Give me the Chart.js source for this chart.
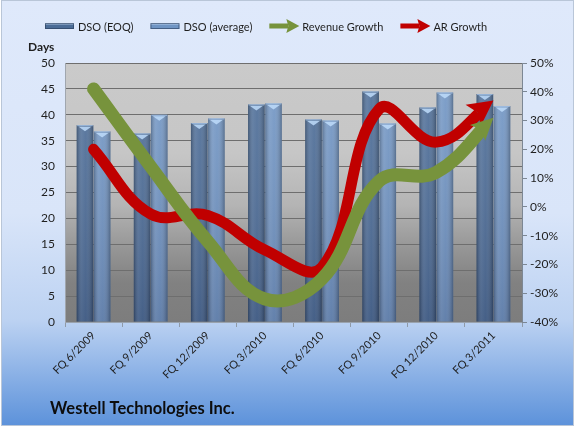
<!DOCTYPE html>
<html lang="en">
<head>
<meta charset="UTF-8">
<title>Westell Technologies DSO</title>
<script src="https://cdn.jsdelivr.net/npm/chart.js@4"></script>
<style>
  html, body { margin: 0; padding: 0; background: #fff; }
  #wrap { width: 575px; height: 427px; }
</style>
</head>
<body>
<div id="wrap"><canvas id="chart" width="575" height="427"></canvas></div>
<script>
// quarters and values
const quarters = ['FQ 6/2009', 'FQ 9/2009', 'FQ 12/2009', 'FQ 3/2010', 'FQ 6/2010', 'FQ 9/2010', 'FQ 12/2010', 'FQ 3/2011'];
const dsoEoq = [38.0, 36.4, 38.4, 42.0, 39.1, 44.5, 41.4, 44.0];
const dsoAvg = [36.8, 40.0, 39.3, 42.2, 38.9, 38.3, 44.3, 41.7];
const revenueGrowth = [41, 14, -12, -32, -25, 9, 12, 31];
const arGrowth = [20, -2.5, -3, -15, -21, 34, 22.5, 37];
const daysTicks = [0, 5, 10, 15, 20, 25, 30, 35, 40, 45, 50];
const growthTicks = [-40, -30, -20, -10, 0, 10, 20, 30, 40, 50];

Chart.defaults.font.family = 'Lato, "Liberation Sans", sans-serif';
Chart.defaults.color = '#1f1f1f';

const FONT = 'Lato, "Liberation Sans", sans-serif';

// backgrounds: blue frame + grey plot area
const backdrop = {
  id: 'backdrop',
  beforeDraw(chart) {
    const { ctx, width, height, chartArea: a } = chart;
    ctx.save();
    ctx.fillStyle = '#fff';
    ctx.fillRect(0, 0, width, height);
    const g = ctx.createLinearGradient(0, 0, 0, height);
    g.addColorStop(0, '#dfe9fb');
    g.addColorStop(0.5, '#d9e5f9');
    g.addColorStop(0.75, '#bcd2f2');
    g.addColorStop(1, '#5b91da');
    ctx.fillStyle = g;
    ctx.fillRect(2, 1, width - 4, height - 3);
    ctx.strokeStyle = '#b9c6d8';
    ctx.lineWidth = 1;
    ctx.strokeRect(1.5, 0.5, width - 3, height - 2);

    const pg = ctx.createLinearGradient(0, a.top, 0, a.bottom);
    pg.addColorStop(0, '#cacaca');
    pg.addColorStop(0.35, '#c6c6c6');
    pg.addColorStop(0.55, '#b4b4b4');
    pg.addColorStop(0.72, '#959595');
    pg.addColorStop(0.85, '#818181');
    pg.addColorStop(1, '#7d7d7d');
    ctx.fillStyle = pg;
    ctx.fillRect(a.left, a.top, a.right - a.left, a.bottom - a.top);
    ctx.restore();
  }
};

// cylinder-ish shading on top of the bars the library draws
const barShade = {
  id: 'barShade',
  afterDatasetDraw(chart, args) {
    const meta = args.meta;
    if (meta.type !== 'bar') return;
    const ctx = chart.ctx;
    const a = chart.chartArea;
    ctx.save();
    meta.data.forEach(bar => {
      const l = bar.x - bar.width / 2, r = bar.x + bar.width / 2;
      const g = ctx.createLinearGradient(l, 0, r, 0);
      g.addColorStop(0, 'rgba(0,0,0,0.28)');
      g.addColorStop(0.3, 'rgba(255,255,255,0.10)');
      g.addColorStop(0.55, 'rgba(255,255,255,0.04)');
      g.addColorStop(1, 'rgba(0,0,0,0.30)');
      ctx.fillStyle = g;
      ctx.fillRect(l, bar.y, bar.width, bar.base - bar.y);
      const v = ctx.createLinearGradient(0, a.top, 0, a.bottom);
      v.addColorStop(0, 'rgba(255,255,255,0.06)');
      v.addColorStop(1, 'rgba(0,0,30,0.16)');
      ctx.fillStyle = v;
      ctx.fillRect(l, bar.y, bar.width, bar.base - bar.y);
      // light cap at the top
      ctx.fillStyle = 'rgba(190,220,250,0.85)';
      ctx.beginPath();
      ctx.moveTo(l + 2, bar.y + 1.5);
      ctx.lineTo(r - 2, bar.y + 1.5);
      ctx.lineTo(bar.x, bar.y + 6);
      ctx.closePath();
      ctx.fill();
      ctx.strokeStyle = 'rgba(160,190,225,0.9)';
      ctx.lineWidth = 1;
      ctx.beginPath();
      ctx.moveTo(l + 0.5, bar.y + 0.5);
      ctx.lineTo(r - 0.5, bar.y + 0.5);
      ctx.stroke();
    });
    ctx.restore();
  }
};

// arrow heads at the end of the growth lines
function headGeom(meta, len, half) {
  const pts = meta.data;
  const p = pts[pts.length - 1];
  let dx = p.x - p.cp1x, dy = p.y - p.cp1y;
  if (!isFinite(dx) || Math.hypot(dx, dy) < 0.5) {
    const q = pts[pts.length - 2];
    dx = p.x - q.x; dy = p.y - q.y;
  }
  const d = Math.hypot(dx, dy);
  const ux = dx / d, uy = dy / d, nx = -uy, ny = ux;
  return { p, ux, uy, nx, ny, len, half };
}

const arrowHeads = {
  id: 'arrowHeads',
  beforeDatasetDraw(chart, args) {
    const ds = chart.data.datasets[args.index];
    if (!ds.head) return;
    const h = headGeom(args.meta, ds.head[0], ds.head[1]);
    const ctx = chart.ctx;
    const s = h.len - 5, e = -20, w = h.half + 8;
    ctx.save();
    ctx.beginPath();
    ctx.rect(0, 0, chart.width, chart.height);
    const bx = h.p.x - h.ux * s, by = h.p.y - h.uy * s;
    const tx = h.p.x - h.ux * e, ty = h.p.y - h.uy * e;
    ctx.moveTo(bx + h.nx * w, by + h.ny * w);
    ctx.lineTo(tx + h.nx * w, ty + h.ny * w);
    ctx.lineTo(tx - h.nx * w, ty - h.ny * w);
    ctx.lineTo(bx - h.nx * w, by - h.ny * w);
    ctx.closePath();
    ctx.clip('evenodd');
  },
  afterDatasetDraw(chart, args) {
    const ds = chart.data.datasets[args.index];
    if (!ds.head) return;
    const ctx = chart.ctx;
    ctx.restore();
    const h = headGeom(args.meta, ds.head[0], ds.head[1]);
    const bx = h.p.x - h.ux * h.len, by = h.p.y - h.uy * h.len;
    const mx = h.p.x - h.ux * (h.len - 5), my = h.p.y - h.uy * (h.len - 5);
    ctx.save();
    ctx.fillStyle = ds.borderColor;
    ctx.beginPath();
    ctx.moveTo(h.p.x, h.p.y);
    ctx.lineTo(bx + h.nx * h.half, by + h.ny * h.half);
    ctx.lineTo(mx, my);
    ctx.lineTo(bx - h.nx * h.half, by - h.ny * h.half);
    ctx.closePath();
    ctx.fill();
    ctx.restore();
  }
};

// legend, "Days" label and company name
const decor = {
  id: 'decor',
  afterDraw(chart) {
    const ctx = chart.ctx;
    ctx.save();
    ctx.textBaseline = 'middle';
    ctx.font = '11px ' + FONT;
    ctx.fillStyle = '#1f1f1f';
    let x = 45;
    const y = 26;
    chart.data.datasets.forEach(ds => {
      if (ds.type === 'bar') {
        const g = ctx.createLinearGradient(0, y - 3, 0, y + 3);
        g.addColorStop(0, '#c8dcf4');
        g.addColorStop(0.4, ds.backgroundColor);
        g.addColorStop(1, ds.backgroundColor);
        ctx.fillStyle = g;
        ctx.fillRect(x, y - 3, 29, 6);
        ctx.strokeStyle = 'rgba(40,60,90,0.6)';
        ctx.lineWidth = 1;
        ctx.strokeRect(x + 0.5, y - 2.5, 28, 5);
      } else {
        ctx.fillStyle = ds.borderColor;
        ctx.fillRect(x, y - 2.5, 19, 5);
        ctx.beginPath();
        ctx.moveTo(x + 30, y);
        ctx.lineTo(x + 17, y - 7);
        ctx.lineTo(x + 19, y);
        ctx.lineTo(x + 17, y + 7);
        ctx.closePath();
        ctx.fill();
      }
      ctx.fillStyle = '#1f1f1f';
      ctx.fillText(ds.label, x + 33, y + 1);
      x += 33 + ctx.measureText(ds.label).width + 17;
    });

    ctx.font = 'bold 12px ' + FONT;
    ctx.fillText('Days', 28, 47);

    ctx.font = 'bold 16.5px ' + FONT;
    ctx.fillStyle = '#0d0d0d';
    ctx.fillText('Westell Technologies Inc.', 50, 409);
    ctx.restore();
  }
};

const tickFont = { size: 12, family: FONT };

new Chart(document.getElementById('chart'), {
  data: {
    labels: quarters,
    datasets: [
      {
        type: 'bar', label: 'DSO (EOQ)', data: dsoEoq, yAxisID: 'y',
        backgroundColor: '#4b6c97', borderWidth: 0,
        categoryPercentage: 0.6, barPercentage: 0.97, order: 3
      },
      {
        type: 'bar', label: 'DSO (average)', data: dsoAvg, yAxisID: 'y',
        backgroundColor: '#7095c4', borderWidth: 0,
        categoryPercentage: 0.6, barPercentage: 0.97, order: 3
      },
      {
        type: 'line', label: 'Revenue Growth', data: revenueGrowth, yAxisID: 'y1',
        borderColor: '#77933c', borderWidth: 13, tension: 0.4, pointRadius: 0,
        borderCapStyle: 'round', fill: false, order: 1, head: [22, 11]
      },
      {
        type: 'line', label: 'AR Growth', data: arGrowth, yAxisID: 'y1',
        borderColor: '#c00000', borderWidth: 11, tension: 0.4, pointRadius: 0,
        borderCapStyle: 'round', fill: false, order: 2, head: [25, 13]
      }
    ]
  },
  options: {
    responsive: false,
    animation: false,
    layout: { padding: { top: 63, left: 0, right: 0, bottom: 0 } },
    plugins: {
      legend: { display: false },
      title: { display: false },
      tooltip: { enabled: false }
    },
    scales: {
      x: {
        offset: true,
        grid: { display: true, drawOnChartArea: false, offset: true, tickLength: 5, color: '#8f9aa8' },
        border: { display: true, color: '#9aa3ae' },
        ticks: { minRotation: 45, maxRotation: 45, font: { size: 11, family: FONT }, color: '#1f1f1f', padding: 2 },
        afterFit: s => { s.height = 105; }
      },
      y: {
        position: 'left',
        min: 0, max: 50,
        afterBuildTicks: s => { s.ticks = daysTicks.map(v => ({ value: v })); },
        grid: { color: '#6e6e6e', drawTicks: false },
        border: { display: true, color: '#a0a6ae' },
        ticks: { font: tickFont, color: '#1f1f1f', padding: 10 },
        afterFit: s => { s.width = 65; }
      },
      y1: {
        position: 'right',
        min: -40, max: 50,
        afterBuildTicks: s => { s.ticks = growthTicks.map(v => ({ value: v })); },
        grid: { drawOnChartArea: false, tickLength: 5, color: '#7c8794' },
        border: { display: true, color: '#7c8794' },
        ticks: { font: tickFont, color: '#1f1f1f', padding: 3, callback: v => v + '%' },
        afterFit: s => { s.width = 53; }
      }
    }
  },
  plugins: [backdrop, barShade, arrowHeads, decor]
});
</script>
</body>
</html>
